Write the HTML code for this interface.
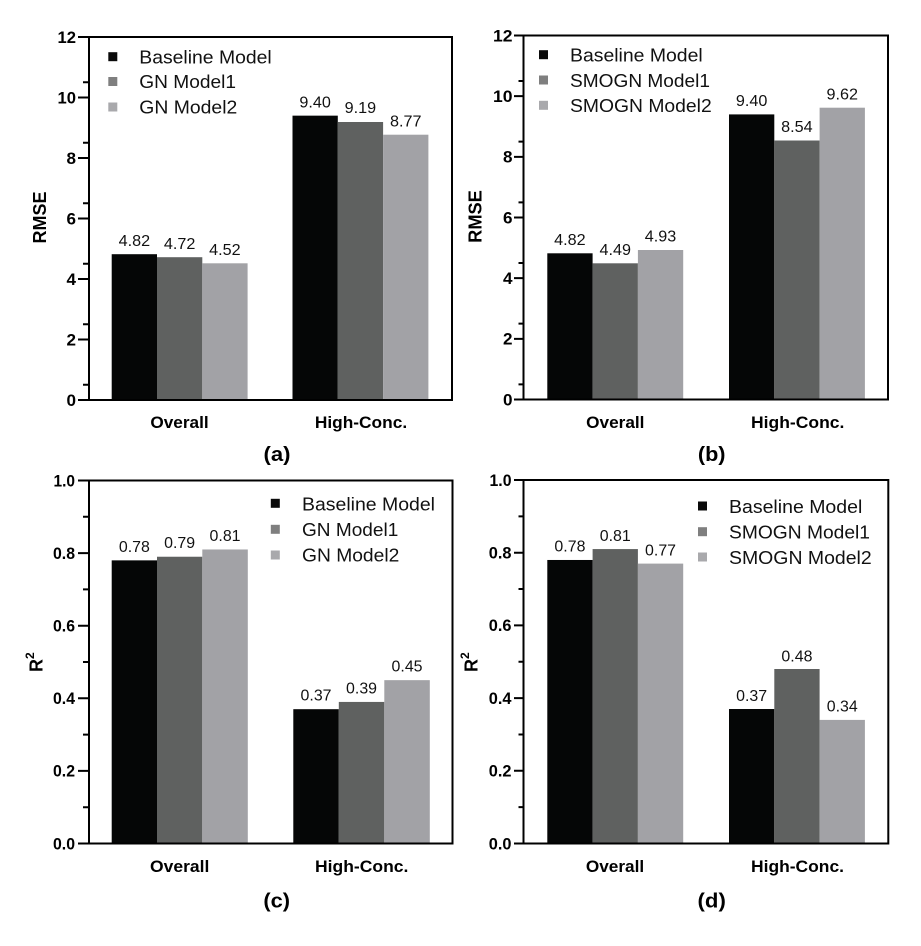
<!DOCTYPE html>
<html><head><meta charset="utf-8"><style>
html,body{margin:0;padding:0;background:#fff;}
svg{display:block;}
text{font-family:"Liberation Sans",Arial,Helvetica,sans-serif;fill:#000;}
.tk{font-size:16.5px;font-weight:bold;text-anchor:end;}
.vl{font-size:15.5px;text-anchor:middle;fill:#111;}
.lg{font-size:18px;fill:#111;}
.cat{font-size:17px;font-weight:bold;text-anchor:middle;}
.ttl{font-size:20px;font-weight:bold;text-anchor:middle;}
.yl{font-size:18px;font-weight:bold;}
.ax{stroke:#000;stroke-width:2;fill:none;}
.b0{fill:#050606;} .b1{fill:#5f6160;} .b2{fill:#a2a2a6;}
.s0{fill:#0a0a0a;} .s1{fill:#7f7f7f;} .s2{fill:#a9a9ac;}
</style></head><body>
<svg width="921" height="946" viewBox="0 0 921 946" xmlns="http://www.w3.org/2000/svg" font-family="Liberation Sans, Arial, sans-serif">

<!-- ===== Panel (a) ===== -->
<g>
<rect class="b0" x="111.7" y="254.2" width="45.3" height="145.8"/>
<rect class="b1" x="157" y="257.2" width="45.3" height="142.8"/>
<rect class="b2" x="202.3" y="263.3" width="45.3" height="136.7"/>
<rect class="b0" x="292.5" y="115.65" width="45.3" height="284.35"/>
<rect class="b1" x="337.8" y="122" width="45.3" height="278"/>
<rect class="b2" x="383.1" y="134.7" width="45.3" height="265.3"/>
<rect class="ax" x="89" y="37" width="363" height="363"/>
<path class="ax" d="M78,400H89M78,339.5H89M78,279H89M78,218.5H89M78,158H89M78,97.5H89M78,37H89M83,384.75H89M83,324.25H89M83,263.75H89M83,203.25H89M83,142.75H89M83,82.25H89"/>
<text class="tk" x="76" y="405.8" textLength="9.5" lengthAdjust="spacingAndGlyphs">0</text>
<text class="tk" x="76" y="345.3" textLength="9.5" lengthAdjust="spacingAndGlyphs">2</text>
<text class="tk" x="76" y="284.8" textLength="9.5" lengthAdjust="spacingAndGlyphs">4</text>
<text class="tk" x="76" y="224.3" textLength="9.5" lengthAdjust="spacingAndGlyphs">6</text>
<text class="tk" x="76" y="163.8" textLength="9.5" lengthAdjust="spacingAndGlyphs">8</text>
<text class="tk" x="76" y="103.3" textLength="18.5" lengthAdjust="spacingAndGlyphs">10</text>
<text class="tk" x="76" y="42.8" textLength="18.5" lengthAdjust="spacingAndGlyphs">12</text>
<text class="vl" x="134.35" y="246" textLength="31.5" lengthAdjust="spacingAndGlyphs">4.82</text>
<text class="vl" x="179.65" y="249" textLength="31.5" lengthAdjust="spacingAndGlyphs">4.72</text>
<text class="vl" x="224.95" y="255" textLength="31.5" lengthAdjust="spacingAndGlyphs">4.52</text>
<text class="vl" x="315.15" y="107.3" textLength="31.5" lengthAdjust="spacingAndGlyphs">9.40</text>
<text class="vl" x="360.45" y="113" textLength="31.5" lengthAdjust="spacingAndGlyphs">9.19</text>
<text class="vl" x="405.75" y="126.5" textLength="31.5" lengthAdjust="spacingAndGlyphs">8.77</text>
<rect class="s0" x="108.3" y="52.2" width="9" height="9"/>
<rect class="s1" x="108.3" y="77" width="9" height="9"/>
<rect class="s2" x="108.3" y="102.5" width="9" height="9"/>
<text class="lg" x="139.3" y="63.3" textLength="132.4" lengthAdjust="spacingAndGlyphs">Baseline Model</text>
<text class="lg" x="139.3" y="88.2" textLength="96.7" lengthAdjust="spacingAndGlyphs">GN Model1</text>
<text class="lg" x="139.3" y="113.5" textLength="98" lengthAdjust="spacingAndGlyphs">GN Model2</text>
<text class="cat" x="179.5" y="428" textLength="58.3" lengthAdjust="spacingAndGlyphs">Overall</text>
<text class="cat" x="361" y="428" textLength="92.3" lengthAdjust="spacingAndGlyphs">High-Conc.</text>
<text class="yl" transform="translate(46,217.5) rotate(-90)" text-anchor="middle" textLength="52" lengthAdjust="spacingAndGlyphs">RMSE</text>
<text class="ttl" x="277" y="461" textLength="27" lengthAdjust="spacingAndGlyphs">(a)</text>
</g>

<!-- ===== Panel (b) ===== -->
<g>
<rect class="b0" x="547.3" y="253.3" width="45.3" height="146.2"/>
<rect class="b1" x="592.6" y="263.3" width="45.3" height="136.2"/>
<rect class="b2" x="637.9" y="250" width="45.3" height="149.5"/>
<rect class="b0" x="729" y="114.4" width="45.3" height="285.1"/>
<rect class="b1" x="774.3" y="140.5" width="45.3" height="259"/>
<rect class="b2" x="819.6" y="107.7" width="45.3" height="291.8"/>
<rect class="ax" x="523.5" y="35.5" width="364.5" height="364"/>
<path class="ax" d="M514,399.5H523.5M514,338.83H523.5M514,278.17H523.5M514,217.5H523.5M514,156.83H523.5M514,96.17H523.5M514,35.5H523.5M518.5,384.33H523.5M518.5,323.67H523.5M518.5,263H523.5M518.5,202.33H523.5M518.5,141.67H523.5M518.5,81H523.5"/>
<text class="tk" x="512.5" y="405.3" textLength="9.5" lengthAdjust="spacingAndGlyphs">0</text>
<text class="tk" x="512.5" y="344.6" textLength="9.5" lengthAdjust="spacingAndGlyphs">2</text>
<text class="tk" x="512.5" y="284" textLength="9.5" lengthAdjust="spacingAndGlyphs">4</text>
<text class="tk" x="512.5" y="223.3" textLength="9.5" lengthAdjust="spacingAndGlyphs">6</text>
<text class="tk" x="512.5" y="162.6" textLength="9.5" lengthAdjust="spacingAndGlyphs">8</text>
<text class="tk" x="512.5" y="102" textLength="19.5" lengthAdjust="spacingAndGlyphs">10</text>
<text class="tk" x="512.5" y="41.3" textLength="19.5" lengthAdjust="spacingAndGlyphs">12</text>
<text class="vl" x="569.95" y="245" textLength="31.5" lengthAdjust="spacingAndGlyphs">4.82</text>
<text class="vl" x="615.25" y="255" textLength="31.5" lengthAdjust="spacingAndGlyphs">4.49</text>
<text class="vl" x="660.55" y="241.7" textLength="31.5" lengthAdjust="spacingAndGlyphs">4.93</text>
<text class="vl" x="751.65" y="106" textLength="31.5" lengthAdjust="spacingAndGlyphs">9.40</text>
<text class="vl" x="796.95" y="132" textLength="31.5" lengthAdjust="spacingAndGlyphs">8.54</text>
<text class="vl" x="842.25" y="99.3" textLength="31.5" lengthAdjust="spacingAndGlyphs">9.62</text>
<rect class="s0" x="539" y="50.2" width="9" height="9"/>
<rect class="s1" x="539" y="75.5" width="9" height="9"/>
<rect class="s2" x="539" y="100.8" width="9" height="9"/>
<text class="lg" x="570" y="61.5" textLength="132.7" lengthAdjust="spacingAndGlyphs">Baseline Model</text>
<text class="lg" x="570" y="86.8" textLength="140" lengthAdjust="spacingAndGlyphs">SMOGN Model1</text>
<text class="lg" x="570" y="112" textLength="141.7" lengthAdjust="spacingAndGlyphs">SMOGN Model2</text>
<text class="cat" x="615.3" y="428" textLength="58.3" lengthAdjust="spacingAndGlyphs">Overall</text>
<text class="cat" x="797.7" y="428" textLength="93.3" lengthAdjust="spacingAndGlyphs">High-Conc.</text>
<text class="yl" transform="translate(481.7,216.5) rotate(-90)" text-anchor="middle" textLength="52.7" lengthAdjust="spacingAndGlyphs">RMSE</text>
<text class="ttl" x="711.7" y="461" textLength="27.7" lengthAdjust="spacingAndGlyphs">(b)</text>
</g>

<!-- ===== Panel (c) ===== -->
<g>
<rect class="b0" x="111.7" y="560.36" width="45.3" height="283.14"/>
<rect class="b1" x="157" y="556.73" width="45.3" height="286.77"/>
<rect class="b2" x="202.3" y="549.47" width="45.5" height="294.03"/>
<rect class="b0" x="293.3" y="709.19" width="45.5" height="134.31"/>
<rect class="b1" x="338.8" y="701.93" width="45.5" height="141.57"/>
<rect class="b2" x="384.3" y="680.15" width="45.5" height="163.35"/>
<rect class="ax" x="89" y="480.5" width="363.5" height="363"/>
<path class="ax" d="M78,843.5H89M78,770.9H89M78,698.3H89M78,625.7H89M78,553.1H89M78,480.5H89M83,807.2H89M83,734.6H89M83,662H89M83,589.4H89M83,516.8H89"/>
<text class="tk" x="75" y="849.3" textLength="22" lengthAdjust="spacingAndGlyphs">0.0</text>
<text class="tk" x="75" y="776.7" textLength="22" lengthAdjust="spacingAndGlyphs">0.2</text>
<text class="tk" x="75" y="704.1" textLength="22" lengthAdjust="spacingAndGlyphs">0.4</text>
<text class="tk" x="75" y="631.5" textLength="22" lengthAdjust="spacingAndGlyphs">0.6</text>
<text class="tk" x="75" y="558.9" textLength="22" lengthAdjust="spacingAndGlyphs">0.8</text>
<text class="tk" x="75" y="486.3" textLength="21.5" lengthAdjust="spacingAndGlyphs">1.0</text>
<text class="vl" x="134.35" y="551.8" textLength="31" lengthAdjust="spacingAndGlyphs">0.78</text>
<text class="vl" x="179.65" y="548.2" textLength="31" lengthAdjust="spacingAndGlyphs">0.79</text>
<text class="vl" x="225.05" y="541" textLength="31" lengthAdjust="spacingAndGlyphs">0.81</text>
<text class="vl" x="316.05" y="700.7" textLength="31" lengthAdjust="spacingAndGlyphs">0.37</text>
<text class="vl" x="361.55" y="693.4" textLength="31" lengthAdjust="spacingAndGlyphs">0.39</text>
<text class="vl" x="407.05" y="671.7" textLength="31" lengthAdjust="spacingAndGlyphs">0.45</text>
<rect class="s0" x="270.8" y="498.8" width="9" height="9"/>
<rect class="s1" x="270.8" y="524.8" width="9" height="9"/>
<rect class="s2" x="270.8" y="550.5" width="9" height="9"/>
<text class="lg" x="302" y="510.5" textLength="133" lengthAdjust="spacingAndGlyphs">Baseline Model</text>
<text class="lg" x="302" y="536" textLength="96.3" lengthAdjust="spacingAndGlyphs">GN Model1</text>
<text class="lg" x="302" y="561.7" textLength="97.3" lengthAdjust="spacingAndGlyphs">GN Model2</text>
<text class="cat" x="179.7" y="872" textLength="59.3" lengthAdjust="spacingAndGlyphs">Overall</text>
<text class="cat" x="361.7" y="872" textLength="93.3" lengthAdjust="spacingAndGlyphs">High-Conc.</text>
<text class="yl" transform="translate(42.7,672) rotate(-90)">R<tspan font-size="12" dy="-8.5">2</tspan></text>
<text class="ttl" x="276.7" y="907.5" textLength="26.7" lengthAdjust="spacingAndGlyphs">(c)</text>
</g>

<!-- ===== Panel (d) ===== -->
<g>
<rect class="b0" x="547.3" y="559.97" width="45.3" height="283.53"/>
<rect class="b1" x="592.6" y="549.07" width="45.3" height="294.43"/>
<rect class="b2" x="637.9" y="563.6" width="45.3" height="279.9"/>
<rect class="b0" x="729" y="709" width="45.3" height="134.5"/>
<rect class="b1" x="774.3" y="669" width="45.3" height="174.5"/>
<rect class="b2" x="819.6" y="719.9" width="45.3" height="123.6"/>
<rect class="ax" x="523.5" y="480" width="364.8" height="363.5"/>
<path class="ax" d="M514,843.5H523.5M514,770.8H523.5M514,698.1H523.5M514,625.4H523.5M514,552.7H523.5M514,480H523.5M518.5,807.15H523.5M518.5,734.45H523.5M518.5,661.75H523.5M518.5,589.05H523.5M518.5,516.35H523.5"/>
<text class="tk" x="511.5" y="849.3" textLength="22.7" lengthAdjust="spacingAndGlyphs">0.0</text>
<text class="tk" x="511.5" y="776.6" textLength="22.7" lengthAdjust="spacingAndGlyphs">0.2</text>
<text class="tk" x="511.5" y="703.9" textLength="22.7" lengthAdjust="spacingAndGlyphs">0.4</text>
<text class="tk" x="511.5" y="631.2" textLength="22.7" lengthAdjust="spacingAndGlyphs">0.6</text>
<text class="tk" x="511.5" y="558.5" textLength="22.7" lengthAdjust="spacingAndGlyphs">0.8</text>
<text class="tk" x="511.5" y="485.8" textLength="22" lengthAdjust="spacingAndGlyphs">1.0</text>
<text class="vl" x="569.95" y="551.7" textLength="31" lengthAdjust="spacingAndGlyphs">0.78</text>
<text class="vl" x="615.25" y="541" textLength="31" lengthAdjust="spacingAndGlyphs">0.81</text>
<text class="vl" x="660.55" y="555.5" textLength="31" lengthAdjust="spacingAndGlyphs">0.77</text>
<text class="vl" x="751.65" y="700.8" textLength="31" lengthAdjust="spacingAndGlyphs">0.37</text>
<text class="vl" x="796.95" y="661.5" textLength="31" lengthAdjust="spacingAndGlyphs">0.48</text>
<text class="vl" x="842.25" y="711.7" textLength="31" lengthAdjust="spacingAndGlyphs">0.34</text>
<rect class="s0" x="698" y="501.5" width="9" height="9"/>
<rect class="s1" x="698" y="527.2" width="9" height="9"/>
<rect class="s2" x="698" y="552.5" width="9" height="9"/>
<text class="lg" x="729" y="513" textLength="133.3" lengthAdjust="spacingAndGlyphs">Baseline Model</text>
<text class="lg" x="729" y="538.4" textLength="141" lengthAdjust="spacingAndGlyphs">SMOGN Model1</text>
<text class="lg" x="729" y="563.8" textLength="142.7" lengthAdjust="spacingAndGlyphs">SMOGN Model2</text>
<text class="cat" x="615" y="872" textLength="58.3" lengthAdjust="spacingAndGlyphs">Overall</text>
<text class="cat" x="797.5" y="872" textLength="93" lengthAdjust="spacingAndGlyphs">High-Conc.</text>
<text class="yl" transform="translate(477.3,672) rotate(-90)">R<tspan font-size="12" dy="-8.5">2</tspan></text>
<text class="ttl" x="711.7" y="907.5" textLength="28.3" lengthAdjust="spacingAndGlyphs">(d)</text>
</g>

</svg>
</body></html>
